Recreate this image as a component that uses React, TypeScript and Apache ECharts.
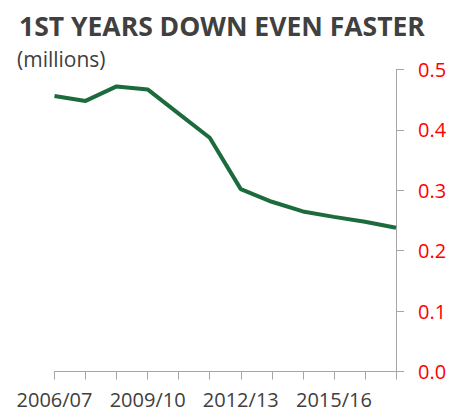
import React, { useEffect, useRef } from "react";
import * as echarts from "echarts";

const categories = [
  "2006/07", "2007/08", "2008/09", "2009/10", "2010/11", "2011/12",
  "2012/13", "2013/14", "2014/15", "2015/16", "2016/17", "2017/18",
];
const firstYears = [0.456, 0.448, 0.472, 0.467, 0.427, 0.387, 0.302, 0.281, 0.265, 0.256, 0.248, 0.238];
const titleText = "1ST YEARS DOWN EVEN FASTER";
const subtitleText = "(millions)";

export default function App() {
  const ref = useRef<HTMLDivElement>(null);
  useEffect(() => {
    document.body.style.margin = "0";
    const chart = echarts.init(ref.current!, null, { renderer: "svg" });
    const font = "'Open Sans', sans-serif";
    chart.setOption({
      animation: false,
      textStyle: { fontFamily: font },
      title: [
        {
          text: titleText,
          left: 14,
          top: 7,
          textStyle: { fontSize: 26.5, fontWeight: "bold", color: "#404040", fontFamily: font },
        },
        {
          text: subtitleText,
          left: 12,
          top: 43,
          textStyle: { fontSize: 21, fontWeight: "normal", color: "#404040", fontFamily: font },
        },
      ],
      grid: { left: 54.5, right: 66, top: 69.5, bottom: 42.5, containLabel: false },
      xAxis: {
        type: "category",
        data: categories,
        boundaryGap: false,
        axisLine: { show: true, lineStyle: { color: "#a6a6a6", width: 1 } },
        axisTick: { show: true, interval: 0, length: 8, lineStyle: { color: "#a6a6a6" } },
        axisLabel: { interval: 2, margin: 18, fontSize: 20, color: "#404040", fontFamily: font },
        splitLine: { show: false },
      },
      yAxis: {
        type: "value",
        position: "right",
        min: 0,
        max: 0.5,
        interval: 0.1,
        axisLine: { show: true, lineStyle: { color: "#a6a6a6", width: 1 } },
        axisTick: { show: true, length: 8, lineStyle: { color: "#a6a6a6" } },
        axisLabel: {
          margin: 22,
          fontSize: 20,
          color: "#ff0000",
          fontFamily: font,
          formatter: (v: number) => v.toFixed(1),
        },
        splitLine: { show: false },
      },
      series: [
        {
          type: "line",
          data: firstYears,
          symbol: "none",
          lineStyle: { color: "#1c6b3c", width: 4 },
        },
      ],
    });
    return () => chart.dispose();
  }, []);
  return <div ref={ref} style={{ width: 462, height: 414, position: "absolute", left: 0, top: 0 }} />;
}
